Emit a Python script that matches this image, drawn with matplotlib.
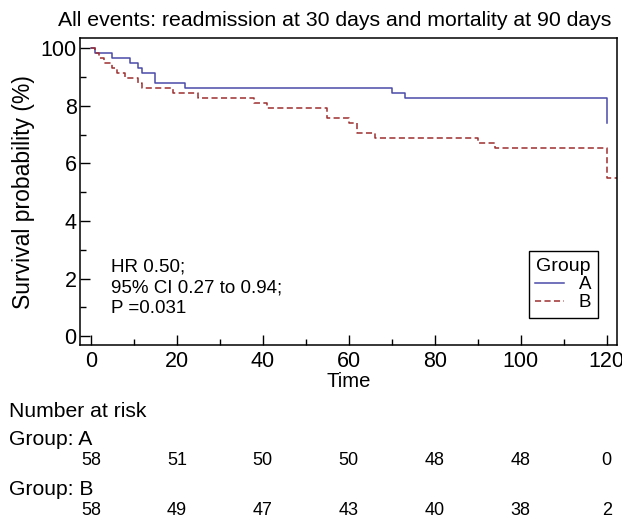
import matplotlib
matplotlib.use('Agg')
import matplotlib.pyplot as plt
from matplotlib.transforms import blended_transform_factory

plt.rcParams['font.family'] = ['Liberation Sans', 'DejaVu Sans']

# Kaplan-Meier steps (time, survival %)
time_a = [0, 1, 5, 9, 11, 12, 15, 22, 70, 73, 120]
surv_a = [100, 98.28, 96.55, 94.83, 93.10, 91.38, 87.93, 86.21, 84.48, 82.76, 74.2]

time_b = [0, 1, 2, 3, 5, 6, 8, 11, 12, 19, 25, 38, 41, 55, 60, 62, 66, 90, 94, 120, 124]
surv_b = [100, 98.28, 96.55, 94.83, 93.10, 91.38, 89.66, 87.93, 86.21, 84.48, 82.76,
          81.03, 79.31, 75.86, 74.14, 70.69, 68.97, 67.24, 65.52, 55.0, 55.0]

risk_times = [0, 20, 40, 60, 80, 100, 120]
risk_a = [58, 51, 50, 50, 48, 48, 0]
risk_b = [58, 49, 47, 43, 40, 38, 2]

y_ticks = [0, 20, 40, 60, 80, 100]
y_ticklabels = ['0', '2', '4', '6', '8', '100']

W, H = 622, 519
fig = plt.figure(figsize=(W / 100, H / 100), dpi=100)
ax = fig.add_axes([79.5 / W, (H - 345) / H, (617 - 79.5) / W, (345 - 38.3) / H])

ax.step(time_a, surv_a, where='post', color='#4a4aaa', lw=1.1, label='A')
ax.step(time_b, surv_b, where='post', color='#9e2f2f', lw=1.1, dashes=(4, 2.2), label='B')

ax.set_xlim(-2.65, 122.4)
ax.set_ylim(-3.1, 103.5)
ax.set_xticks(range(0, 121, 20))
ax.set_xticks(range(10, 120, 20), minor=True)
ax.set_yticks(y_ticks)
ax.set_yticklabels(y_ticklabels)
ax.set_yticks(range(10, 100, 20), minor=True)
ax.tick_params(which='both', direction='in', labelsize=15.5, width=1)
ax.tick_params(which='major', length=7)
ax.tick_params(which='minor', length=4)
ax.tick_params(axis='y', pad=2)
ax.tick_params(axis='x', pad=4)
for s in ax.spines.values():
    s.set_linewidth(1.1)

ax.set_xlabel('Time', fontsize=14.6, labelpad=0)
ax.set_ylabel('Survival probability (%)', fontsize=16.5, labelpad=4)

fig.text(334.5 / W, (H - 26) / H, 'All events: readmission at 30 days and mortality at 90 days',
         ha='center', va='baseline', fontsize=15.3)

stats = ['HR 0.50;', '95% CI 0.27 to 0.94;', 'P =0.031']
for i, line in enumerate(stats):
    fig.text(110.7 / W, (H - 271.7 - 20.8 * i) / H, line, fontsize=13.5, va='baseline')

leg = ax.legend(title='Group', loc='lower right', bbox_to_anchor=(0.964, 0.089),
                fontsize=13.5, title_fontsize=14, frameon=True, fancybox=False,
                edgecolor='black', framealpha=1, handlelength=1.5, handletextpad=0.8,
                labelspacing=0.05, borderpad=0.35, borderaxespad=0)
leg.get_frame().set_linewidth(1.0)

# number at risk table
trans = blended_transform_factory(ax.transData, fig.transFigure)
fig.text(9.3 / W, (H - 417) / H, 'Number at risk', fontsize=15.2, va='baseline')
fig.text(9.3 / W, (H - 445) / H, 'Group: A', fontsize=15.2, va='baseline')
fig.text(9.3 / W, (H - 495) / H, 'Group: B', fontsize=15.2, va='baseline')
for t, na, nb in zip(risk_times, risk_a, risk_b):
    ax.text(t, (H - 465) / H, str(na), transform=trans, ha='center', va='baseline', fontsize=13)
    ax.text(t, (H - 515) / H, str(nb), transform=trans, ha='center', va='baseline', fontsize=13)

fig.savefig('out.png', dpi=100)
